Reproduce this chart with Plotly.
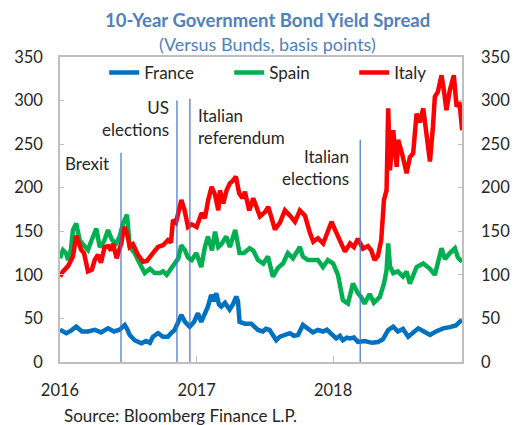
import pandas as pd
import plotly.graph_objects as go

# ---- data (time in years since 1 Jan 2016, spreads in basis points) ----
france_t = [0.000, 0.046, 0.081, 0.119, 0.161, 0.205, 0.256, 0.300, 0.352, 0.396, 0.437, 0.474, 0.491, 0.511,
            0.547, 0.596, 0.630, 0.659, 0.681, 0.718, 0.755, 0.791, 0.813, 0.840, 0.864, 0.889, 0.916, 0.950,
            0.982, 1.011, 1.035, 1.062, 1.084, 1.108, 1.128, 1.145, 1.165, 1.182, 1.209, 1.243, 1.267, 1.292,
            1.304, 1.316, 1.355, 1.401, 1.429, 1.451, 1.487, 1.509, 1.536, 1.560, 1.585, 1.612, 1.646, 1.685,
            1.714, 1.744, 1.780, 1.817, 1.853, 1.890, 1.927, 1.956, 1.988, 2.024, 2.051, 2.073, 2.103, 2.125,
            2.154, 2.183, 2.234, 2.286, 2.330, 2.366, 2.405, 2.442, 2.476, 2.513, 2.552, 2.586, 2.625, 2.667,
            2.711, 2.755, 2.808, 2.857, 2.901, 2.928, 2.947]
france_v = [37, 33, 36, 40.5, 35, 35, 37, 34, 38.6, 35, 37, 42.5, 38, 31,
            25, 21.5, 24, 22, 29, 33, 29, 29, 33, 36.7, 45, 54, 46, 40.5,
            46, 56, 46, 55, 63.5, 77, 70, 79, 66, 63.5, 68, 60, 66, 75,
            70, 46, 44, 44, 39, 36.7, 35, 38, 36.7, 30, 25, 29, 31, 33,
            30, 31, 42.5, 38, 34, 36.7, 35, 37, 33, 27, 30, 25, 28, 27,
            28, 23, 24, 22, 23, 26, 36.7, 40.5, 35, 38, 29, 33, 38.6, 35,
            31, 35, 38.6, 40, 42, 46, 48]

spain_t = [0.000, 0.022, 0.044, 0.059, 0.081, 0.095, 0.119, 0.144, 0.168, 0.205, 0.227, 0.266, 0.291, 0.322,
           0.352, 0.381, 0.412, 0.437, 0.462, 0.491, 0.511, 0.547, 0.584, 0.621, 0.659, 0.694, 0.733, 0.755,
           0.782, 0.806, 0.840, 0.867, 0.889, 0.916, 0.938, 0.965, 0.999, 1.035, 1.062, 1.084, 1.114, 1.136,
           1.160, 1.182, 1.218, 1.245, 1.284, 1.316, 1.348, 1.390, 1.416, 1.451, 1.490, 1.524, 1.560, 1.597,
           1.634, 1.670, 1.707, 1.758, 1.780, 1.817, 1.856, 1.890, 1.927, 1.963, 2.002, 2.037, 2.073, 2.110,
           2.147, 2.183, 2.207, 2.232, 2.269, 2.300, 2.344, 2.374, 2.393, 2.405, 2.418, 2.442, 2.476, 2.513,
           2.540, 2.564, 2.613, 2.662, 2.711, 2.747, 2.796, 2.821, 2.857, 2.894, 2.916, 2.947]
spain_v = [119, 128.5, 125, 117, 130, 151.5, 159, 140, 135, 128.5, 138, 153, 132, 138,
           151.5, 140, 136, 144, 159, 169, 132, 125, 113, 102, 107, 102, 102, 104,
           100, 106, 113, 119, 134, 128, 120, 117, 125, 109, 132, 144, 128, 149.5,
           132, 135, 144, 132, 151.5, 125, 125, 130.5, 128, 117, 113, 121, 98, 108,
           113, 125, 119, 132, 121, 117, 117, 117, 109, 117, 113, 100, 71, 67,
           90, 79, 74.6, 67, 78, 68, 74.6, 90, 105, 136, 110, 102, 104, 98,
           103.6, 90, 109, 113, 107, 100, 130.5, 118, 125, 130.5, 120, 115]

italy_t = [0.000, 0.022, 0.059, 0.081, 0.095, 0.119, 0.132, 0.156, 0.176, 0.205, 0.234, 0.254, 0.278, 0.300,
           0.327, 0.352, 0.374, 0.388, 0.415, 0.437, 0.449, 0.464, 0.474, 0.491, 0.511, 0.535, 0.571, 0.608,
           0.637, 0.681, 0.718, 0.755, 0.791, 0.813, 0.828, 0.850, 0.864, 0.889, 0.913, 0.938, 0.965, 1.001,
           1.038, 1.062, 1.086, 1.111, 1.136, 1.160, 1.172, 1.196, 1.221, 1.245, 1.267, 1.289, 1.313, 1.338,
           1.355, 1.387, 1.416, 1.441, 1.465, 1.502, 1.526, 1.551, 1.575, 1.612, 1.648, 1.685, 1.722, 1.758,
           1.795, 1.832, 1.856, 1.890, 1.929, 1.963, 1.990, 2.015, 2.051, 2.088, 2.125, 2.154, 2.183, 2.220,
           2.256, 2.281, 2.305, 2.330, 2.354, 2.374, 2.393, 2.405, 2.418, 2.442, 2.467, 2.478, 2.505, 2.540,
           2.564, 2.588, 2.613, 2.637, 2.662, 2.686, 2.711, 2.733, 2.747, 2.769, 2.796, 2.813, 2.832, 2.857,
           2.886, 2.906, 2.927, 2.947]
italy_v = [98, 104, 110, 118, 121, 145, 140, 128.5, 125, 104, 106, 117, 123, 114,
           132, 133, 128, 136, 119, 130, 136, 150, 155, 148, 132, 135, 123, 115,
           116, 125, 132, 134, 140, 137, 163, 160, 170, 186, 174, 155, 158, 155,
           171, 165, 186, 201, 192, 174, 197, 182, 197, 205, 208, 212.7, 193.6, 188,
           195.5, 174, 188, 178, 167, 172, 178, 165, 152, 160, 174, 168, 161, 174,
           168, 148, 138, 142, 136, 150, 161, 152, 138, 126.6, 136, 132, 141.5, 130,
           133, 128, 117, 122, 140, 186, 197, 291, 220, 266, 224, 255, 240, 216.5,
           235, 239.5, 285, 275, 291, 260, 230, 270, 304.5, 310, 329, 312, 289, 312,
           329, 293, 298, 266]

events = ["Brexit", "US<br>elections", "Italian<br>referendum", "Italian<br>elections"]
event_t = [0.447, 0.857, 0.952, 2.200]
event_top = [240, 300, 302, 255]

y_ticks = [0, 50, 100, 150, 200, 250, 300, 350]
x_ticks = ["2016-01-01", "2017-01-01", "2018-01-01"]
x_tick_text = ["2016", "2017", "2018"]

START = pd.Timestamp("2016-01-01")


def to_dates(ts):
    return [START + pd.to_timedelta(t * 365.25, unit="D") for t in ts]


FONT = "Lato, 'Open Sans', sans-serif"
TXT = "#262626"
BLUE_TXT = "#4F81BD"

fig = go.Figure()
fig.add_trace(go.Scatter(x=to_dates(france_t), y=france_v, name="France", mode="lines",
                         line=dict(color="#0070C0", width=4.5)))
fig.add_trace(go.Scatter(x=to_dates(spain_t), y=spain_v, name="Spain", mode="lines",
                         line=dict(color="#00B050", width=4.5)))
fig.add_trace(go.Scatter(x=to_dates(italy_t), y=italy_v, name="Italy", mode="lines",
                         line=dict(color="#FF0000", width=4.5)))
# invisible trace so the right-hand axis is drawn
fig.add_trace(go.Scatter(x=[x_ticks[0]], y=[0], yaxis="y2", mode="lines", showlegend=False,
                         hoverinfo="skip", line=dict(width=0)))

ev_dates = to_dates(event_t)
for d, top in zip(ev_dates, event_top):
    fig.add_shape(type="line", x0=d, x1=d, y0=0, y1=top, xref="x", yref="y",
                  line=dict(color="#4472C4", width=1.2))

ann = [
    (ev_dates[0], 228, "right", -10, events[0]),
    (ev_dates[1], 279, "right", -6, events[1]),
    (ev_dates[2], 270, "left", 6, events[2]),
    (ev_dates[3], 223, "right", -9, events[3]),
]
for d, yv, align, shift, txt in ann:
    fig.add_annotation(x=d, y=yv, xref="x", yref="y", text=txt, showarrow=False,
                       xanchor=align, yanchor="middle", align=align, xshift=shift,
                       font=dict(family=FONT, size=17, color=TXT))

fig.add_annotation(x=0.5, y=1.0, xref="paper", yref="paper", yshift=37, xshift=6,
                   xanchor="center", yanchor="middle",
                   text="<b>10-Year Government Bond Yield Spread</b>", showarrow=False,
                   font=dict(family=FONT, size=18.5, color=BLUE_TXT))
fig.add_annotation(x=0.5, y=1.0, xref="paper", yref="paper", yshift=13, xshift=6,
                   xanchor="center", yanchor="middle",
                   text="(Versus Bunds, basis points)", showarrow=False,
                   font=dict(family=FONT, size=18, color=BLUE_TXT))
fig.add_annotation(x=0, y=0, xref="paper", yref="paper", xanchor="left", yanchor="middle",
                   yshift=-53, xshift=2,
                   text="Source: Bloomberg Finance L.P.", showarrow=False,
                   font=dict(family=FONT, size=17, color=TXT))

fig.update_layout(
    width=514, height=425,
    margin=dict(l=60, r=52, t=57, b=63, autoexpand=False),
    paper_bgcolor="white", plot_bgcolor="white",
    font=dict(family=FONT, size=16.5, color=TXT),
    showlegend=True,
    legend=dict(orientation="h", x=0.11, y=0.948, xanchor="left", yanchor="middle",
                bgcolor="rgba(0,0,0,0)", font=dict(size=17, color=TXT),
                entrywidth=80, itemwidth=30),
    xaxis=dict(type="date", range=["2016-01-01", "2018-12-12"], tickvals=x_ticks, ticktext=x_tick_text,
               showgrid=False, showline=True, linecolor="#BFBFBF", linewidth=1.5, mirror=True,
               ticks="inside", ticklen=6, tickcolor="#BFBFBF", ticklabelstandoff=12, zeroline=False,
               automargin=False),
    yaxis=dict(range=[0, 350], tickvals=y_ticks, showgrid=False, showline=True, linecolor="#BFBFBF",
               linewidth=1.5, mirror="ticks", ticks="inside", ticklen=4, tickcolor="#BFBFBF",
               ticklabelstandoff=12, zeroline=False, automargin=False),
    yaxis2=dict(range=[0, 350], tickvals=y_ticks, overlaying="y", side="right", showgrid=False,
                showline=False, ticks="", ticklabelstandoff=18, zeroline=False, automargin=False),
)

fig.write_html("out.html", config={"displayModeBar": False},
               post_script="document.body.style.margin='0';")
